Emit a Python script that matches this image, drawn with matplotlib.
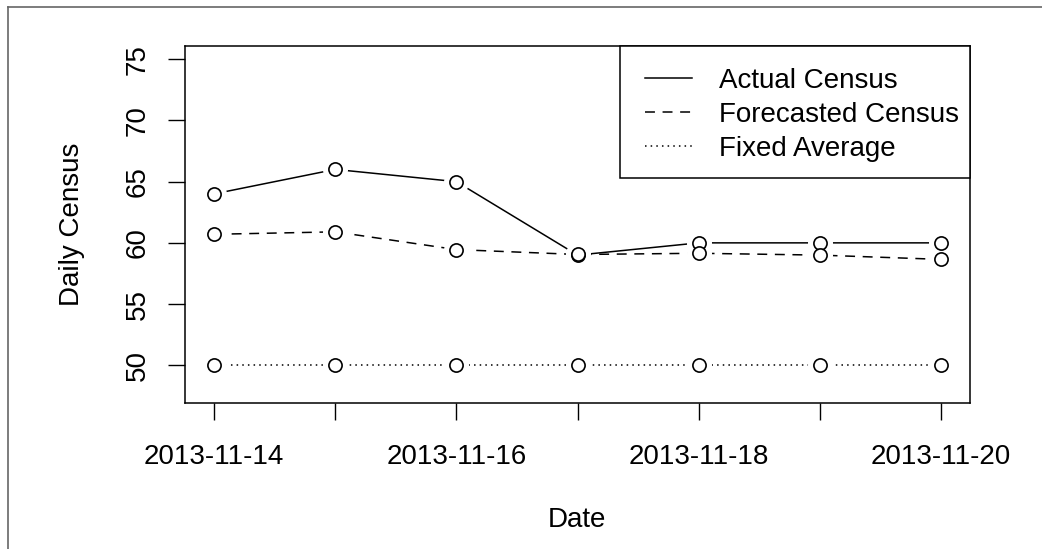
import numpy as np
import matplotlib.pyplot as plt
import matplotlib.dates as mdates
from matplotlib.lines import Line2D
from matplotlib.patches import Rectangle

plt.rcParams["font.family"] = ["Liberation Sans", "DejaVu Sans"]

dates = np.arange(np.datetime64("2013-11-14"), np.datetime64("2013-11-21"))
actual = [64, 66, 65, 59, 60, 60, 60]
forecast = [60.7, 60.9, 59.45, 59.05, 59.15, 59.0, 58.65]
fixed_avg = [50, 50, 50, 50, 50, 50, 50]
tick_labels = ["2013-11-14", "", "2013-11-16", "", "2013-11-18", "", "2013-11-20"]

x = mdates.date2num(dates.astype("datetime64[D]").astype(object))

W, H = 1042, 549
fig = plt.figure(figsize=(W / 100, H / 100), dpi=100)
ax = fig.add_axes([185 / W, 1 - 403 / H, 785 / W, 357 / H])

styles = [
    (actual, "-", "Actual Census"),
    (forecast, (0, (6.5, 5)), "Forecasted Census"),
    (fixed_avg, (0, (1, 2.7)), "Fixed Average"),
]
lw = 1.1
for vals, ls, lab in styles:
    ax.plot(x, vals, color="black", lw=lw, linestyle=ls, zorder=2)
for vals, ls, lab in styles:
    # white halo so lines stop short of the points, like R's type = "b"
    ax.plot(x, vals, "o", ms=17, mfc="white", mec="white", zorder=3)
for vals, ls, lab in styles:
    ax.plot(x, vals, "o", ms=9.5, mfc="white", mec="black", mew=1.2, zorder=4)

span = x[-1] - x[0]
ax.set_xlim(x[0] - 0.04 * span, x[-1] + 0.04 * span)
ax.set_ylim(48 - 0.04 * 27, 75 + 0.04 * 27)

ax.set_xticks(x)
ax.set_xticklabels(tick_labels)
ax.set_yticks([50, 55, 60, 65, 70, 75])
ax.tick_params(axis="both", direction="out", length=12.5, width=1.0,
               labelsize=20, color="black")
ax.tick_params(axis="x", pad=17)
ax.tick_params(axis="y", pad=12, labelrotation=90)
for t in ax.get_yticklabels():
    t.set_va("center")

for s in ax.spines.values():
    s.set_linewidth(1.1)

fig.text(577 / W, 1 - 520 / H, "Date", fontsize=20, ha="center", va="center")
fig.text(72 / W, 1 - 224 / H, "Daily Census", fontsize=20, ha="center",
         va="center", rotation=90)

# legend box drawn separately so the padding matches R's legend()
handles = [Line2D([], [], color="black", lw=lw, linestyle=ls) for _, ls, _ in styles]
leg = fig.legend(handles, [lab for _, _, lab in styles], loc="upper left",
                 bbox_to_anchor=(645 / W, 1 - 68 / H), borderaxespad=0,
                 fontsize=20, frameon=False, handlelength=1.7,
                 handletextpad=0.95, labelspacing=0.28, borderpad=0)
fig.add_artist(Rectangle((620 / W, 1 - 178 / H), 350 / W, 132 / H,
                         transform=fig.transFigure, fill=True, fc="white",
                         ec="black", lw=1.1, zorder=1))
leg.set_zorder(5)

# outer grey frame of the device
fig.add_artist(Line2D([8 / W, 8 / W], [0, 1 - 7 / H], color="#666666", lw=1.2))
fig.add_artist(Line2D([8 / W, 1], [1 - 7 / H, 1 - 7 / H], color="#666666", lw=1.2))

fig.savefig("out.png", dpi=100)
